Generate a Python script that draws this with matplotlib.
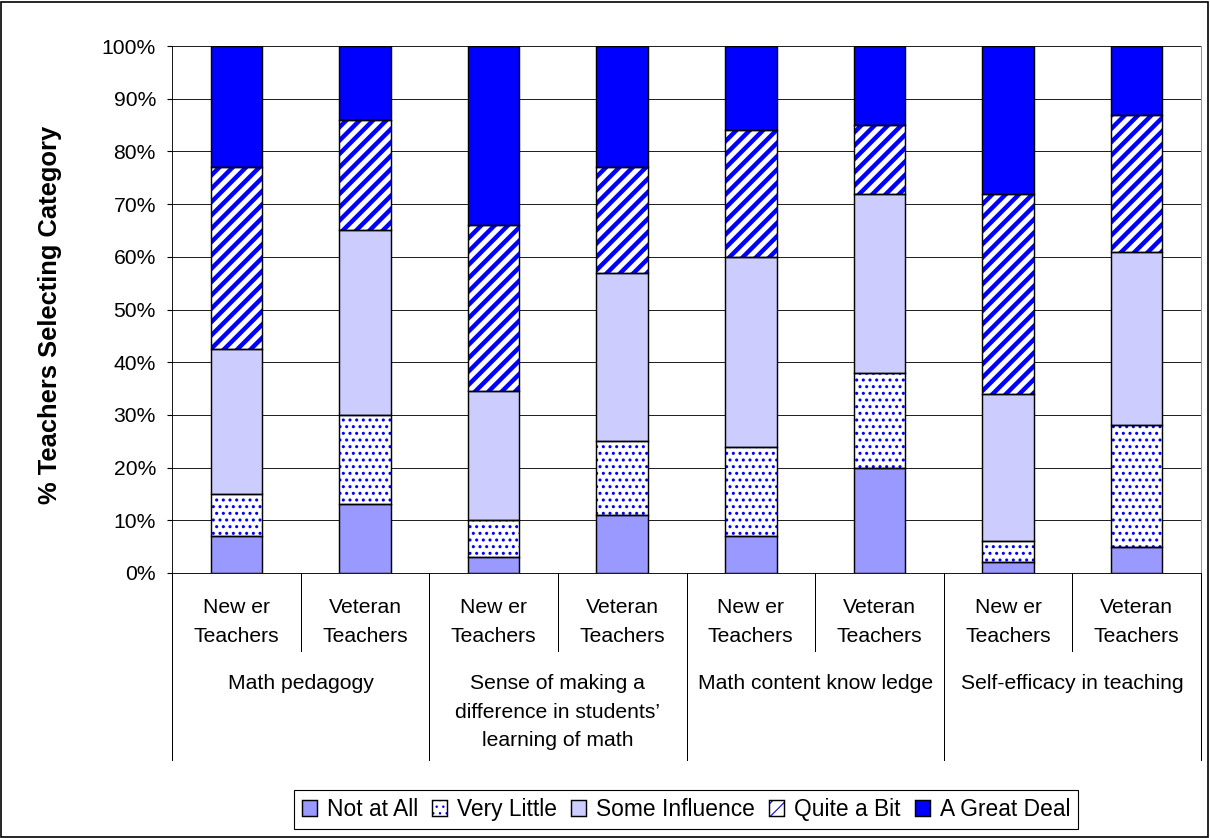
import matplotlib
matplotlib.use("Agg")
import matplotlib.pyplot as plt
import matplotlib.transforms as mtransforms
from matplotlib.patches import Patch, Rectangle
import numpy as np

plt.rcParams['font.family'] = ['Liberation Sans', 'DejaVu Sans']

groups = ["Math pedagogy",
          "Sense of making a\ndifference in students\u2019\nlearning of math",
          "Math content know ledge",
          "Self-efficacy in teaching"]
bar_labels = ["New er\nTeachers", "Veteran\nTeachers"] * 4
categories = ["Not at All", "Very Little", "Some Influence", "Quite a Bit", "A Great Deal"]

not_at_all = [7, 13, 3, 11, 7, 20, 2, 5]
very_little = [8, 17, 7, 14, 17, 18, 4, 23]
some_influence = [27.5, 35, 24.5, 32, 36, 34, 28, 33]
quite_a_bit = [34.5, 21, 31.5, 20, 24, 13, 38, 26]
great_deal = [23, 14, 34, 23, 16, 15, 28, 13]

faces = ["#9999FF", "white", "#CCCCFF", "white", "#0000FF"]
hatch_cols = ["#9999FF", "#0000FF", "#CCCCFF", "#0000FF", "#0000FF"]
hatches = [None, "..", None, "//", None]
hatch_lw = [1.0, 1.6, 1.0, 4.0, 1.0]

DPI = 80
W, H = 1210, 838
FS = 19

fig = plt.figure(figsize=(W / DPI, H / DPI), dpi=DPI)
# plot area in pixels
L, R, T, B = 172, 1201, 46, 573
ax = fig.add_axes([L / W, 1 - B / H, (R - L) / W, (B - T) / H])


def with_hatch_lw(artist, lw):
    # set the hatch line width whichever way this matplotlib reads it
    if hasattr(artist, 'set_hatch_linewidth'):
        artist.set_hatch_linewidth(lw)
    else:
        artist._hatch_linewidth = lw
    orig = artist.draw

    def draw(renderer, orig=orig, lw=lw):
        with plt.rc_context({'hatch.linewidth': lw}):
            orig(renderer)
    artist.draw = draw


x = np.arange(len(not_at_all))
series = [not_at_all, very_little, some_influence, quite_a_bit, great_deal]
bottom = np.zeros(len(x))
for vals, fc, hc, hat, hlw in zip(series, faces, hatch_cols, hatches, hatch_lw):
    vals = np.array(vals, dtype=float)
    with plt.rc_context({'hatch.linewidth': hlw}):
        bars = ax.bar(x, vals, 0.4, bottom=bottom, facecolor=fc, edgecolor=hc,
                      hatch=hat, linewidth=0, zorder=3)
    for b in bars:
        with_hatch_lw(b, hlw)
    ax.bar(x, vals, 0.4, bottom=bottom, fill=False, edgecolor='black',
           linewidth=1.3, zorder=4)
    bottom += vals

ax.set_xlim(-0.5, len(x) - 0.5)
ax.set_ylim(0, 100)
ax.set_yticks(np.arange(0, 101, 10))
ax.set_yticklabels([f"{v}%" for v in range(0, 101, 10)], fontsize=FS)
ax.tick_params(axis='y', length=5 * 72 / DPI, width=1, pad=10, direction='out')
ax.set_xticks([])
ax.yaxis.grid(True, color='#222222', linewidth=0.9, zorder=0)
ax.set_axisbelow(True)
ax.spines['top'].set_visible(False)
ax.spines['right'].set_color('#888888')
ax.spines['left'].set_color('black')
ax.spines['bottom'].set_color('black')

# category axis below the plot
ph = B - T
trans = mtransforms.blended_transform_factory(ax.transData, ax.transAxes)


def yfrac(ypx):
    return (B - ypx) / ph


for i in range(len(x) + 1):
    xb = i - 0.5
    low = 760 if i % 2 == 0 else 651
    ax.plot([xb, xb], [0, yfrac(low)], color='black', linewidth=0.9,
            transform=trans, clip_on=False)

for i, lab in enumerate(bar_labels):
    ax.text(x[i], yfrac(622), lab, transform=trans, ha='center', va='center',
            fontsize=FS, linespacing=1.65)

for g, name in enumerate(groups):
    ax.text(2 * g + 0.5, yfrac(674), name, transform=trans, ha='center', va='top',
            fontsize=FS, linespacing=1.65)

fig.text(50 / W, 1 - 315 / H, "% Teachers Selecting Category", rotation=90,
         ha='center', va='center', fontsize=23, fontweight='bold')

# legend
handles = []
for fc, hc, hat in zip(faces, hatch_cols, hatches):
    handles.append((Patch(facecolor=fc, edgecolor=hc, hatch=hat, linewidth=0),
                    Patch(fill=False, edgecolor='black', linewidth=1.3)))
leg = fig.legend(handles, categories, loc='center', ncol=5,
                 bbox_to_anchor=(686 / W, 1 - 809.5 / H), fontsize=20.5,
                 handlelength=0.66, handleheight=0.66, handletextpad=0.44,
                 columnspacing=0.62, borderpad=0.35, borderaxespad=0,
                 fancybox=False, edgecolor='black', framealpha=1)
leg.get_frame().set_linewidth(1.0)

fig.patches.append(Rectangle((0.001, 0.001), 0.997, 0.997, transform=fig.transFigure,
                             fill=False, edgecolor='black', linewidth=1.5))

fig.savefig("out.png", dpi=DPI)
